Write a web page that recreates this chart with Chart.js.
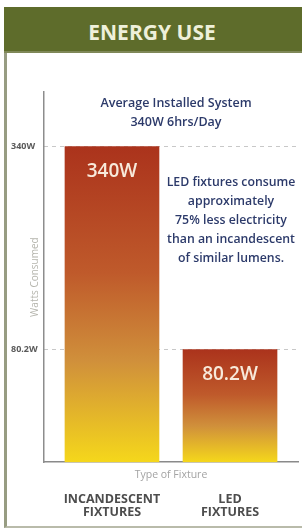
<!DOCTYPE html>
<html>
<head>
<meta charset="utf-8">
<script src="https://cdn.jsdelivr.net/npm/chart.js@4.4.0/dist/chart.umd.min.js"></script>
<style>
  html, body { margin: 0; padding: 0; background: #fff; }
  #wrap { position: relative; width: 302px; height: 529px; overflow: hidden; }
  #head {
    position: absolute; left: 4px; top: 7px; width: 298px; height: 46px;
    background: #5e6c2b; border-bottom: 2px solid #7f8858; box-sizing: border-box;
    color: #eef0da; font: bold 21px "Open Sans", sans-serif; text-align: center;
    padding-top: 6px; line-height: 38px; padding-right: 2px;
  }
  #frame {
    position: absolute; left: 4px; top: 53px; width: 298px; height: 475px;
    border-left: 3px solid #979c82; border-bottom: 2px solid #b9bbaa; box-sizing: border-box;
  }
  canvas { position: absolute; left: 0; top: 0; }
</style>
</head>
<body>
<div id="wrap">
  <div id="head">ENERGY USE</div>
  <div id="frame"></div>
  <canvas id="chart" width="302" height="529"></canvas>
</div>
<script>
const categories = [['INCANDESCENT', 'FIXTURES'], ['LED', 'FIXTURES']];
const watts = [340, 80.2];
const valueLabels = ['340W', '80.2W'];
const yTicks = [80.2, 340];
const yTickLabels = ['80.2W', '340W'];
const headline = ['Average Installed System', '340W 6hrs/Day'];
const note = ['LED fixtures consume', 'approximately', '75% less electricity', 'than an incandescent', 'of similar lumens.'];

// the picture is not drawn to scale, the axis starts below zero
const yMin = -64;
const yMax = 410;
const xMin = -0.576;
const xMax = 1.576;

Chart.defaults.font.family = '"Open Sans", sans-serif';

function barFill(c) {
  const chart = c.chart;
  const y = chart.scales.y;
  if (!chart.chartArea || !y || !c.raw) return '#c4662f';
  const top = y.getPixelForValue(c.raw.y);
  const bottom = y.getPixelForValue(yMin);
  const g = chart.ctx.createLinearGradient(0, top, 0, bottom);
  g.addColorStop(0, '#ab331c');
  g.addColorStop(0.4, '#bf5a2b');
  g.addColorStop(0.68, '#d0903b');
  g.addColorStop(1, '#f5d71b');
  return g;
}

const notes = {
  id: 'notes',
  afterDatasetsDraw(chart) {
    const { ctx, scales: { x, y } } = chart;
    ctx.save();
    ctx.textAlign = 'center';
    ctx.textBaseline = 'middle';
    ctx.fillStyle = '#f8eadb';
    ctx.font = '600 19px "Open Sans"';
    watts.forEach((w, i) => {
      ctx.fillText(valueLabels[i], x.getPixelForValue(i), y.getPixelForValue(w) + 25);
    });
    ctx.fillStyle = '#2c3a6a';
    ctx.font = '600 12.5px "Open Sans"';
    headline.forEach((t, i) => ctx.fillText(t, 176, 103 + i * 19));
    ctx.font = '600 12.3px "Open Sans"';
    note.forEach((t, i) => ctx.fillText(t, 231, 182 + i * 19));
    ctx.restore();
  }
};

new Chart(document.getElementById('chart').getContext('2d'), {
  type: 'bar',
  data: {
    datasets: [{
      data: watts.map((w, i) => ({ x: i, y: w })),
      backgroundColor: barFill,
      borderWidth: 0,
      barThickness: 94,
      base: yMin
    }]
  },
  options: {
    responsive: false,
    animation: false,
    layout: { padding: { left: 11, right: 4, top: 92, bottom: 0 } },
    plugins: { legend: { display: false }, tooltip: { enabled: false } },
    scales: {
      x: {
        type: 'linear', position: 'bottom', weight: 0,
        min: xMin, max: xMax, offset: false,
        grid: { display: false, drawTicks: false },
        ticks: { display: false },
        border: { display: true, color: '#8a8a8a', width: 1.5 },
        title: {
          display: true, text: 'Type of Fixture', color: '#a3a3a3',
          font: { size: 10.5 }, padding: { top: 7, bottom: 1 }
        }
      },
      x2: {
        type: 'linear', position: 'bottom', weight: 1,
        min: xMin, max: xMax, offset: false,
        grid: { display: false, drawTicks: false },
        border: { display: false },
        afterBuildTicks: (s) => { s.ticks = categories.map((c, i) => ({ value: i })); },
        ticks: {
          callback: (v) => categories[v],
          color: '#4d4d4d', font: { size: 12.5, weight: 'bold', lineHeight: 1.05 },
          padding: 10, maxRotation: 0, autoSkip: false
        }
      },
      y: {
        type: 'linear', position: 'left', weight: 1,
        min: yMin, max: yMax,
        afterBuildTicks: (s) => { s.ticks = yTicks.map(v => ({ value: v })); },
        afterFit: (s) => { s.width = 33; },
        grid: { color: '#c8c8c8', lineWidth: 1, drawTicks: false },
        border: { display: false, dash: [4, 4] },
        ticks: {
          callback: (v) => yTickLabels[yTicks.indexOf(v)],
          color: '#5a5a5a', font: { size: 9, weight: 'bold' },
          crossAlign: 'far', padding: 0
        },
        title: {
          display: true, text: 'Watts Consumed', color: '#b5b5ad',
          font: { size: 10 }, padding: { top: 18, bottom: 0 }
        }
      },
      y2: {
        type: 'linear', position: 'left', weight: 0,
        min: 0, max: 1,
        afterFit: (s) => { s.width = 0; },
        grid: { display: false, drawTicks: false },
        ticks: { display: false },
        border: { display: true, color: '#8d8d8d', width: 1.5 }
      }
    }
  },
  plugins: [notes]
});
</script>
</body>
</html>
